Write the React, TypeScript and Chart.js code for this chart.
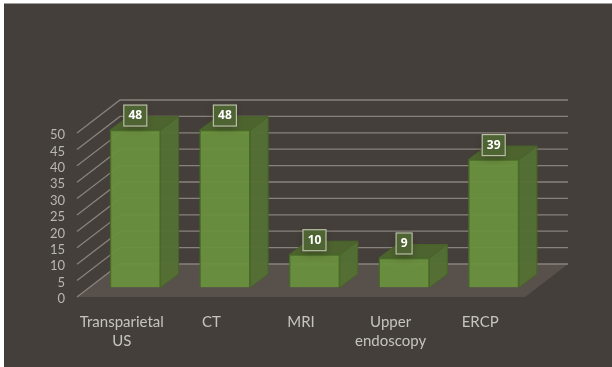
import { useEffect, useRef } from "react";
import { Chart, registerables } from "chart.js";

Chart.register(...registerables);

const categories = [["Transparietal", "US"], "CT", "MRI", ["Upper", "endoscopy"], "ERCP"];
const patients = [48, 48, 10, 9, 39];
const valueTicks = [0, 5, 10, 15, 20, 25, 30, 35, 40, 45, 50];

const WALL_DX = 43;
const WALL_DY = -33;
const BAR_DX = 13.5;
const BAR_DY = -9.5;
const SIDE_DX = 18;
const SIDE_DY = -13.5;
const FONT = "Lato, 'Noto Sans', sans-serif";

const polygon = (ctx: CanvasRenderingContext2D, pts: number[][], fill: string, stroke?: string) => {
  ctx.beginPath();
  pts.forEach(([x, y], i) => (i ? ctx.lineTo(x, y) : ctx.moveTo(x, y)));
  ctx.closePath();
  ctx.fillStyle = fill;
  ctx.fill();
  if (stroke) {
    ctx.strokeStyle = stroke;
    ctx.lineWidth = 1;
    ctx.stroke();
  }
};

// Panel, floor, wall gridlines and the depth faces of each column
const stage = {
  id: "stage",
  beforeDraw(chart: any) {
    const { ctx } = chart;
    ctx.save();
    ctx.fillStyle = "#443f3a";
    ctx.fillRect(4, 3.5, chart.width - 4, chart.height - 3.5);
    ctx.restore();
  },
  beforeDatasetsDraw(chart: any) {
    const { ctx, chartArea: a, scales } = chart;
    const y = scales.y;
    const base = y.getPixelForValue(0);
    ctx.save();
    polygon(
      ctx,
      [
        [a.left, base],
        [a.left + WALL_DX, base + WALL_DY],
        [a.right + WALL_DX, base + WALL_DY],
        [a.right, base],
      ],
      "#58504b"
    );
    ctx.strokeStyle = "#87827b";
    ctx.lineWidth = 1.3;
    valueTicks.forEach((t) => {
      const py = y.getPixelForValue(t);
      ctx.beginPath();
      ctx.moveTo(a.left, py);
      ctx.lineTo(a.left + WALL_DX, py + WALL_DY);
      ctx.lineTo(a.right + WALL_DX, py + WALL_DY);
      ctx.stroke();
    });
    chart.getDatasetMeta(0).data.forEach((bar: any) => {
      const w = bar.width / 2;
      const l = bar.x - w + BAR_DX;
      const r = bar.x + w + BAR_DX;
      const t = bar.y + BAR_DY;
      const b = bar.base + BAR_DY;
      polygon(
        ctx,
        [
          [r, t],
          [r + SIDE_DX, t + SIDE_DY],
          [r + SIDE_DX, b + SIDE_DY],
          [r, b],
        ],
        "rgba(84,112,52,0.97)",
        "#48642a"
      );
      polygon(
        ctx,
        [
          [l, t],
          [l + SIDE_DX, t + SIDE_DY],
          [r + SIDE_DX, t + SIDE_DY],
          [r, t],
        ],
        "#4e642f",
        "#48642a"
      );
    });
    ctx.restore();
  },
  beforeDatasetDraw(chart: any) {
    chart.ctx.save();
    chart.ctx.translate(BAR_DX, BAR_DY);
  },
  afterDatasetDraw(chart: any) {
    chart.ctx.restore();
  },
  // Boxed value labels sitting above each column's front edge
  afterDatasetsDraw(chart: any) {
    const { ctx } = chart;
    ctx.save();
    ctx.font = "bold 12px 'Open Sans', sans-serif";
    ctx.textAlign = "center";
    ctx.textBaseline = "middle";
    chart.getDatasetMeta(0).data.forEach((bar: any, i: number) => {
      const label = String(patients[i]);
      const w = label.length > 1 ? 23 : 16;
      const h = 21;
      const cx = bar.x + BAR_DX;
      const cy = bar.y + BAR_DY - 14.5;
      ctx.save();
      ctx.shadowColor = "rgba(40,40,20,0.45)";
      ctx.shadowBlur = 7;
      ctx.shadowOffsetY = 3;
      ctx.fillStyle = "#4f6433";
      ctx.fillRect(cx - w / 2, cy - h / 2, w, h);
      ctx.restore();
      ctx.strokeStyle = "#b9bda8";
      ctx.lineWidth = 1.2;
      ctx.strokeRect(cx - w / 2, cy - h / 2, w, h);
      ctx.fillStyle = "#ffffff";
      ctx.fillText(label, cx, cy + 0.5);
    });
    ctx.restore();
  },
};

export default function App() {
  const canvasRef = useRef<HTMLCanvasElement>(null);

  useEffect(() => {
    document.body.style.margin = "0";
    const chart = new Chart(canvasRef.current!, {
      type: "bar",
      data: {
        labels: categories,
        datasets: [
          {
            data: patients,
            backgroundColor: "rgba(106,144,62,0.96)",
            borderColor: "#4a6b28",
            borderWidth: 1.5,
            barThickness: 50.5,
          },
        ],
      },
      options: {
        animation: false,
        responsive: false,
        layout: { padding: { top: 133, right: 87, left: 0, bottom: 0 } },
        plugins: { legend: { display: false }, tooltip: { enabled: false } },
        scales: {
          x: {
            grid: { display: false },
            border: { display: false },
            afterFit: (s: any) => {
              s.height = 70;
            },
            ticks: {
              color: "#c6c4be",
              padding: 8,
              maxRotation: 0,
              autoSkip: false,
              font: { family: FONT, size: 15, lineHeight: 1.27 },
            },
          },
          y: {
            min: 0,
            max: 50,
            afterBuildTicks: (s: any) => {
              s.ticks = valueTicks.map((value) => ({ value }));
            },
            grid: { display: false },
            border: { display: false },
            afterFit: (s: any) => {
              s.width = 77;
            },
            ticks: {
              color: "#b9b7b1",
              padding: 4,
              labelOffset: 2,
              autoSkip: false,
              font: { family: FONT, size: 13 },
            },
          },
        },
      },
      plugins: [stage],
    });
    return () => chart.destroy();
  }, []);

  return <canvas ref={canvasRef} width={612} height={367} style={{ display: "block" }} />;
}
